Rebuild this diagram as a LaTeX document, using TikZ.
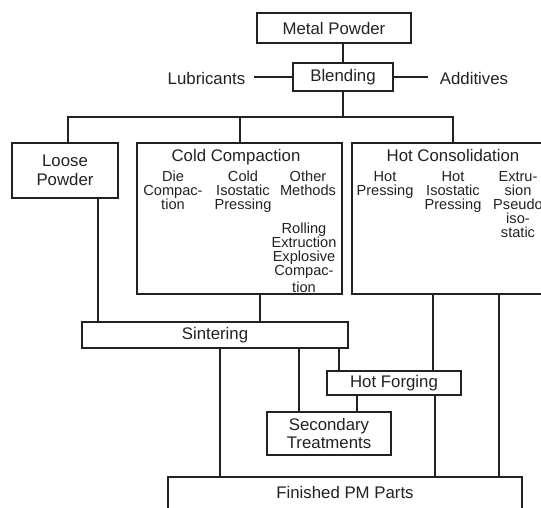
\documentclass[tikz,border=0pt]{standalone}
\usepackage{fontspec}
\setmainfont{Liberation Sans}
\newcommand\mainfs{\fontsize{16.8}{18.5}\selectfont}
\newcommand\subfs{\fontsize{14.6}{14}\selectfont}
\definecolor{ink}{HTML}{222222}
\begin{document}
\begin{tikzpicture}[x=1pt,y=-1pt,
  box/.style={draw=ink, line width=1.7pt, fill=white, inner sep=0pt, font=\mainfs, text=ink, align=center},
  lbl/.style={inner sep=0pt, font=\mainfs, text=ink, align=center},
  sub/.style={inner sep=0pt, font=\subfs, text=ink, align=center, anchor=north},
  ttl/.style={inner sep=0pt, font=\mainfs, text=ink, anchor=base},
  wire/.style={draw=ink, line width=1.7pt}]
\useasboundingbox (0,0) rectangle (541,508);
\clip (0,0) rectangle (541,508);
\fill[white] (0,0) rectangle (541,508);

% column coordinates for connectors
\coordinate (jn) at (0,117);
\coordinate (xl) at (68,0);
\coordinate (xm) at (240,0);
\coordinate (xa) at (98,0);
\coordinate (xb) at (260,0);
\coordinate (xc) at (220,0);
\coordinate (xd) at (299,0);
\coordinate (xe) at (339,0);
\coordinate (xf) at (433,0);
\coordinate (xg) at (499,0);
\coordinate (xh) at (357,0);
\coordinate (xi) at (435,0);

% boxes
\node[box, minimum width=154, minimum height=30] (mp) at (334,28) {Metal Powder};
\node[box, minimum width=100, minimum height=28] (bl) at (343,77) {Blending};
\node[lbl] (lub) at (206.5,78) {Lubricants};
\node[lbl] (add) at (474,78) {Additives};
\node[box, minimum width=106, minimum height=55] (lp) at (65,170.5) {Loose\\Powder};
\node[box, minimum width=205, minimum height=151] (cc) at (239.5,218.5) {};
\node[box, minimum width=202, minimum height=151] (hc) at (453,218.5) {};
\node[box, minimum width=266, minimum height=26] (si) at (215,335) {Sintering};
\node[box, minimum width=134, minimum height=24] (hf) at (394,383) {Hot Forging};
\node[box, minimum width=124, minimum height=43] (st) at (329,433.5) {Secondary\\Treatments};
\node[box, minimum width=354, minimum height=63] (fp) at (345,508.5) {};
\node[lbl] (fpt) at (345,492) {Finished PM Parts};

% contents of Cold Compaction
\node[ttl] (cct) at (236,162) {Cold Compaction};
\node[sub] (c1) at (173,171) {Die\\Compac-\\tion};
\node[sub] (c2) at (243,171) {Cold\\Isostatic\\Pressing};
\node[sub] (c3) at (308,171) {Other\\Methods};
\node[sub] (c4) at (304,223) {Rolling\\Extruction\\Explosive\\Compac-\\[3pt]tion};

% contents of Hot Consolidation
\node[ttl] (hct) at (453,162) {Hot Consolidation};
\node[sub] (h1) at (385,171) {Hot\\Pressing};
\node[sub] (h2) at (453,171) {Hot\\Isostatic\\Pressing};
\node[sub] (h3) at (518,171) {Extru-\\sion\\Pseudo\\iso-\\static};

% connectors
\draw[wire] (bl.north) -- (bl.north |- mp.south);
\draw[wire, shorten <=9pt] (lub.east |- bl.west) -- (bl.west);
\draw[wire, shorten >=12pt] (bl.east) -- (bl.east -| add.west);
\draw[wire] (bl.south) -- (bl.south |- jn);
\draw[wire] (lp.north -| xl) -- (xl |- jn) -- (hc.north |- jn) -- (hc.north);
\draw[wire] (cc.north -| xm) -- (xm |- jn);
\draw[wire] (lp.south -| xa) -- (si.north -| xa);
\draw[wire] (cc.south -| xb) -- (si.north -| xb);
\draw[wire] (si.south -| xc) -- (fp.north -| xc);
\draw[wire] (si.south -| xd) -- (st.north -| xd);
\draw[wire] (si.south -| xe) -- (hf.north -| xe);
\draw[wire] (hc.south -| xf) -- (hf.north -| xf);
\draw[wire] (hc.south -| xg) -- (fp.north -| xg);
\draw[wire] (hf.south -| xh) -- (st.north -| xh);
\draw[wire] (hf.south -| xi) -- (fp.north -| xi);
\end{tikzpicture}
\end{document}
